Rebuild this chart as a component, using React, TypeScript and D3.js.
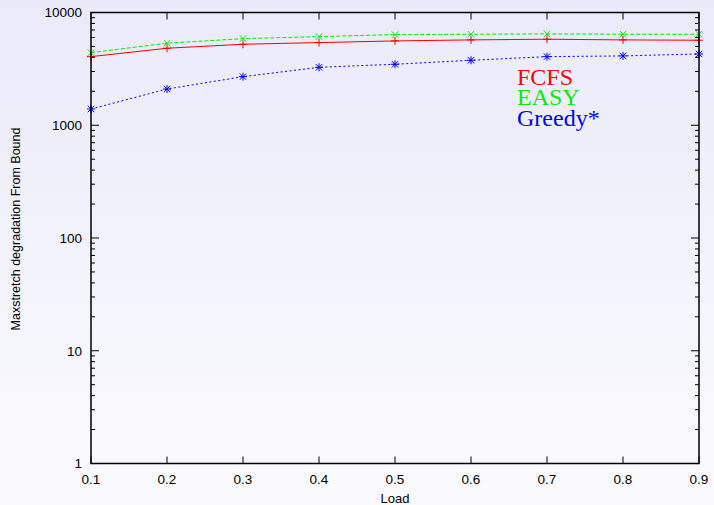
import React from "react";
import * as d3 from "d3";

const loads = [0.1, 0.2, 0.3, 0.4, 0.5, 0.6, 0.7, 0.8, 0.9];
const fcfs = [4060, 4820, 5230, 5410, 5595, 5715, 5795, 5715, 5675];
const easy = [4405, 5340, 5865, 6110, 6370, 6415, 6460, 6415, 6415];
const greedy = [1393, 2096, 2697, 3265, 3475, 3770, 4060, 4120, 4290];
const xTicks = [0.1, 0.2, 0.3, 0.4, 0.5, 0.6, 0.7, 0.8, 0.9];
const yTicks = [1, 10, 100, 1000, 10000];
const seriesNames = ["FCFS", "EASY", "Greedy*"];
const seriesColors = ["#ff0000", "#00ee00", "#0000ff"];

const W = 714, H = 505;
const L = 91, R = 699, T = 12.5, B = 463.5;

export default function App() {
  const x = d3.scaleLinear().domain([0.1, 0.9]).range([L, R]);
  const y = d3.scaleLog().domain([1, 10000]).range([B, T]);
  const line = d3.line<number>().x((_, i) => x(loads[i])).y((d) => y(d));
  const minor: number[] = [];
  for (let e = 0; e < 4; e++) for (let m = 2; m <= 9; m++) minor.push(m * Math.pow(10, e));
  const data = [fcfs, easy, greedy];
  const dashes = [undefined, "4,2", "2,2.5"];
  const marker = (kind: number, cx: number, cy: number, color: string, key: string) => {
    const s = 4;
    const plus = <path d={`M${cx - s},${cy}H${cx + s}M${cx},${cy - s}V${cy + s}`} />;
    const cross = <path d={`M${cx - s * 0.8},${cy - s * 0.8}L${cx + s * 0.8},${cy + s * 0.8}M${cx - s * 0.8},${cy + s * 0.8}L${cx + s * 0.8},${cy - s * 0.8}`} />;
    return (
      <g key={key} stroke={color} strokeWidth={1} fill="none">
        {kind === 0 && plus}
        {kind === 1 && cross}
        {kind === 2 && <>{plus}{cross}</>}
      </g>
    );
  };
  return (
    <svg width={W} height={H} style={{ position: "absolute", left: 0, top: 0 }}>
      <defs>
        <linearGradient id="bg" x1="0" y1="0" x2="0" y2="1">
          <stop offset="0" stopColor="#eaeafa" />
          <stop offset="1" stopColor="#fbfbfe" />
        </linearGradient>
      </defs>
      <rect x={0} y={0} width={W} height={H} fill="url(#bg)" />
      <g fontFamily="'Liberation Sans', Arial, sans-serif" fontSize={13.5} fill="#000">
        {minor.map((v) => (
          <g key={"m" + v} stroke="#000" strokeWidth={1}>
            <line x1={L} x2={L + 4} y1={y(v)} y2={y(v)} />
            <line x1={R} x2={R - 4} y1={y(v)} y2={y(v)} />
          </g>
        ))}
        {yTicks.map((v) => (
          <g key={"y" + v}>
            <line x1={L} x2={L + 8} y1={y(v)} y2={y(v)} stroke="#000" />
            <line x1={R} x2={R - 8} y1={y(v)} y2={y(v)} stroke="#000" />
            <text x={L - 9} y={y(v)} dy="0.36em" textAnchor="end">{v}</text>
          </g>
        ))}
        {xTicks.map((v) => (
          <g key={"x" + v}>
            <line x1={x(v)} x2={x(v)} y1={B} y2={B - 7} stroke="#000" />
            <line x1={x(v)} x2={x(v)} y1={T} y2={T + 7} stroke="#000" />
            <text x={x(v)} y={B + 20.5} textAnchor="middle">{v.toFixed(1)}</text>
          </g>
        ))}
        <text x={(L + R) / 2} y={502.5} textAnchor="middle" fontSize={13}>Load</text>
        <text transform={`translate(20,229) rotate(-90)`} textAnchor="middle" fontSize={12.5}>
          Maxstretch degradation From Bound
        </text>
      </g>
      {data.map((d, k) => (
        <g key={"s" + k}>
          <path d={line(d) || ""} fill="none" stroke={seriesColors[k]} strokeWidth={1} strokeDasharray={dashes[k]} />
          {d.map((v, i) => marker(k, x(loads[i]), y(v), seriesColors[k], `p${k}-${i}`))}
        </g>
      ))}
      <rect x={L} y={T} width={R - L} height={B - T} fill="none" stroke="#000" strokeWidth={1.5} />
      <g fontFamily="'Liberation Serif', 'Times New Roman', serif" fontSize={24}>
        {seriesNames.map((n, k) => (
          <text key={n} x={517} y={84.5 + k * 20.5} fill={seriesColors[k]}>{n}</text>
        ))}
      </g>
    </svg>
  );
}
